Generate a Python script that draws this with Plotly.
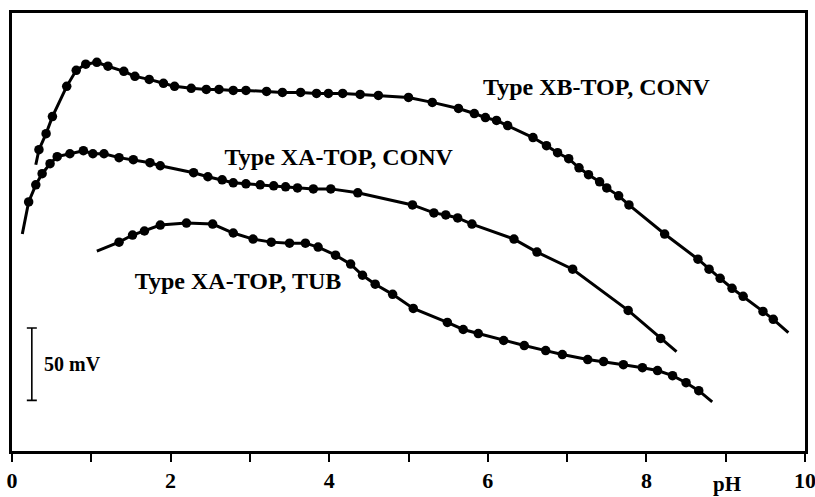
import plotly.graph_objects as go

# ---- data (pH, relative potential in mV) ----
xb_ph = [0.34, 0.43, 0.51, 0.69, 0.81, 0.93, 1.07, 1.21, 1.41, 1.55, 1.73, 1.91, 2.05, 2.26, 2.45,
         2.61, 2.79, 2.95, 3.21, 3.41, 3.64, 3.84, 3.99, 4.17, 4.39, 4.62, 5.00, 5.30, 5.63, 5.83,
         5.97, 6.11, 6.25, 6.57, 6.74, 6.88, 7.02, 7.15, 7.27, 7.41, 7.50, 7.65, 7.78, 8.23, 8.65,
         8.79, 8.93, 9.08, 9.22, 9.47, 9.60]
xb_mv = [208.3, 219.4, 231.2, 252.1, 263.2, 267.4, 268.7, 266.0, 262.5, 259.0, 256.9, 254.2, 252.1,
         250.7, 250.0, 250.0, 249.3, 249.3, 248.6, 247.9, 247.9, 247.2, 247.2, 247.2, 246.5, 245.8,
         244.4, 241.0, 236.8, 233.3, 230.5, 228.5, 225.0, 216.7, 211.1, 206.2, 202.1, 195.8, 191.0,
         186.1, 181.9, 176.4, 170.1, 150.0, 132.6, 125.7, 119.4, 112.5, 106.9, 96.5, 91.0]
xb_ends_ph = [0.30, 9.79]
xb_ends_mv = [197.9, 81.9]

xa_ph = [0.21, 0.30, 0.38, 0.48, 0.57, 0.73, 0.90, 1.02, 1.16, 1.35, 1.53, 1.74, 1.87, 2.29, 2.47,
         2.65, 2.79, 2.95, 3.13, 3.30, 3.45, 3.60, 3.80, 4.02, 4.36, 5.05, 5.32, 5.47, 5.62, 5.80,
         6.33, 6.62, 7.07, 7.77, 8.18]
xa_mv = [172.2, 184.0, 191.7, 198.6, 203.5, 205.5, 207.6, 205.5, 205.5, 202.8, 201.4, 199.3, 197.2,
         192.4, 189.6, 187.5, 185.4, 184.7, 184.0, 183.3, 182.6, 181.9, 181.2, 181.2, 178.5, 170.1,
         164.6, 163.2, 161.1, 156.9, 146.5, 137.5, 125.7, 97.2, 77.8]
xa_ends_ph = [0.13, 8.38]
xa_ends_mv = [150.0, 68.7]

tub_ph = [1.35, 1.52, 1.67, 1.87, 2.20, 2.53, 2.79, 3.04, 3.27, 3.50, 3.70, 3.86, 4.08, 4.27, 4.42,
          4.58, 4.80, 5.06, 5.49, 5.69, 5.88, 6.20, 6.46, 6.73, 6.94, 7.26, 7.46, 7.71, 7.95, 8.14,
          8.33, 8.50, 8.66]
tub_mv = [144.4, 149.3, 152.1, 156.2, 157.6, 156.9, 150.7, 146.5, 144.4, 143.7, 143.7, 141.0, 135.4,
          129.2, 121.5, 115.3, 108.3, 98.6, 88.9, 84.0, 81.2, 76.4, 72.9, 69.4, 66.7, 63.2, 61.8,
          59.7, 57.6, 55.6, 52.1, 47.2, 41.7]
tub_ends_ph = [1.07, 8.83]
tub_ends_mv = [138.2, 34.0]

labels = ["Type XB-TOP, CONV", "Type XA-TOP, CONV", "Type XA-TOP, TUB"]
label_ph = [7.37, 4.12, 2.85]
label_mv = [250.6, 202.0, 115.9]

tick_vals = [0, 2, 4, 6, 8, 10]
tick_text = ["0", "2", "4", "6", "8", "10"]

scale_ph = 0.25
scale_center_mv = 60.0
scale_half_mv = 25.0  # 50 mV bar

FONT = "Liberation Serif, Times New Roman, serif"

fig = go.Figure()

curves = [
    (xb_ph, xb_mv, xb_ends_ph, xb_ends_mv),
    (xa_ph, xa_mv, xa_ends_ph, xa_ends_mv),
    (tub_ph, tub_mv, tub_ends_ph, tub_ends_mv),
]
for px, pm, ex, em in curves:
    lx = [ex[0]] + px + [ex[1]]
    lm = [em[0]] + pm + [em[1]]
    fig.add_trace(go.Scatter(x=lx, y=lm, mode="lines",
                             line=dict(color="black", width=3), hoverinfo="skip"))
    fig.add_trace(go.Scatter(x=px, y=pm, mode="markers",
                             marker=dict(color="black", size=9.5), hoverinfo="skip"))

# scale bar
fig.add_trace(go.Scatter(x=[scale_ph], y=[scale_center_mv], mode="markers",
                         marker=dict(size=0.1, color="black"),
                         error_y=dict(type="data", array=[scale_half_mv], color="black",
                                      thickness=1.6, width=5),
                         hoverinfo="skip"))

fig.add_trace(go.Scatter(x=label_ph, y=label_mv, mode="text", text=labels,
                         textfont=dict(family=FONT, size=24, color="black"),
                         texttemplate="<b>%{text}</b>", hoverinfo="skip"))

fig.add_annotation(x=0.38, y=scale_center_mv, xref="x", yref="y", text="<b>50 mV</b>",
                   showarrow=False, xanchor="left", yanchor="middle",
                   font=dict(family=FONT, size=20, color="black"))

fig.add_annotation(x=(727 - 12) / 79.3, y=0, xref="x", yref="paper", text="<b>pH</b>",
                   showarrow=False, xanchor="center", yanchor="top", yshift=-19,
                   font=dict(family=FONT, size=21, color="black"))

fig.update_layout(
    width=815, height=497,
    margin=dict(l=12, r=10, t=13, b=46, autoexpand=False),
    paper_bgcolor="white", plot_bgcolor="white",
    showlegend=False,
    xaxis=dict(range=[0, 10], tickvals=tick_vals, ticktext=["<b>%s</b>" % t for t in tick_text],
               automargin=False, ticklabeloverflow="allow",
               ticks="outside", ticklen=8, tickwidth=2, tickcolor="black",
               showline=True, linewidth=3, linecolor="black", mirror=True,
               showgrid=False, zeroline=False,
               tickfont=dict(family=FONT, size=22, color="black"),
               minor=dict(tickvals=[1, 3, 5, 7, 9], ticks="outside", ticklen=8,
                          tickwidth=2, tickcolor="black", showgrid=False)),
    yaxis=dict(range=[0, 302.8], showticklabels=False, ticks="", automargin=False,
               showline=True, linewidth=3, linecolor="black", mirror=True,
               showgrid=False, zeroline=False),
)

fig.write_html("out.html", config={"displayModeBar": False},
               post_script="document.body.style.margin='0';document.body.style.overflow='hidden';")
